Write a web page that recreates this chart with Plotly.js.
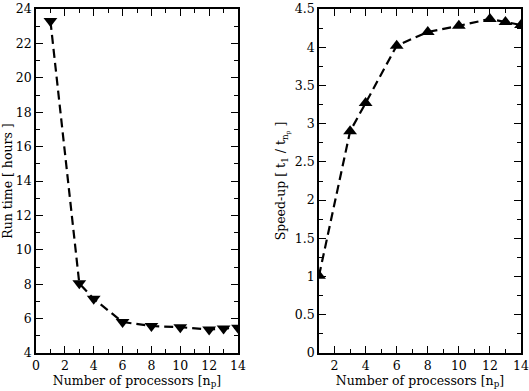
<!DOCTYPE html>
<html>
<head>
<meta charset="utf-8">
<script src="https://cdn.plot.ly/plotly-3.0.1.min.js"></script>
<style>
  html, body { margin: 0; padding: 0; background: #fff; }
  #chart { width: 529px; height: 391px; }
</style>
</head>
<body>
<div id="chart"></div>
<script>
// Dane z wykresu
const processors = [1, 3, 4, 6, 8, 10, 12, 13, 14];
const runTime = [23.3, 8.05, 7.15, 5.8, 5.57, 5.5, 5.37, 5.43, 5.47];
const speedUp = [1.01, 2.9, 3.27, 4.02, 4.2, 4.28, 4.37, 4.33, 4.29];
const xTicks = [0, 2, 4, 6, 8, 10, 12, 14];
const runTicks = [4, 6, 8, 10, 12, 14, 16, 18, 20, 22, 24];
const speedTicks = [0, 0.5, 1, 1.5, 2, 2.5, 3, 3.5, 4, 4.5];

const fontFamily = 'DejaVu Serif';
const fontSize = 12.5;

const runTrace = {
  x: processors,
  y: runTime,
  xaxis: 'x',
  yaxis: 'y',
  mode: 'lines+markers',
  line: { color: 'black', width: 2.2, dash: '9px,5px' },
  marker: { symbol: 'triangle-down', size: 12, color: 'black' },
  showlegend: false
};

const speedTrace = {
  x: processors,
  y: speedUp,
  xaxis: 'x2',
  yaxis: 'y2',
  mode: 'lines+markers',
  line: { color: 'black', width: 2.2, dash: '9px,5px' },
  marker: { symbol: 'triangle-up', size: 12, color: 'black' },
  showlegend: false
};

// Wspólne ustawienia osi
function axisBase(vals) {
  return {
    tickmode: 'array',
    tickvals: vals,
    ticktext: vals.map(String),
    showline: true,
    linecolor: 'black',
    linewidth: 1.5,
    mirror: 'ticks',
    ticks: 'inside',
    ticklen: 7,
    tickwidth: 1.3,
    tickcolor: 'black',
    showgrid: false,
    zeroline: false,
    ticklabeloverflow: 'allow',
    tickfont: { family: fontFamily, size: fontSize, color: 'black' },
    minor: { ticks: 'inside', ticklen: 4, tickwidth: 1.1, tickcolor: 'black', showgrid: false }
  };
}

const xTitle = { text: 'Number of processors [n<sub>p</sub>]', font: { family: fontFamily, size: fontSize, color: 'black' }, standoff: 2 };

const layout = {
  width: 529,
  height: 391,
  margin: { t: 9, r: 0, b: 38, l: 0 },
  font: { family: fontFamily, size: fontSize, color: 'black' },
  paper_bgcolor: 'white',
  plot_bgcolor: 'white',
  xaxis: Object.assign(axisBase(xTicks), {
    domain: [36 / 529, 238 / 529],
    range: [0, 14],
    anchor: 'y',
    title: xTitle
  }),
  yaxis: Object.assign(axisBase(runTicks), {
    domain: [0, 1],
    range: [4, 24],
    anchor: 'x',
    title: { text: 'Run time [ hours ]', font: { family: fontFamily, size: fontSize, color: 'black' }, standoff: 5 }
  }),
  xaxis2: Object.assign(axisBase(xTicks), {
    domain: [319 / 529, 521 / 529],
    range: [1, 14],
    anchor: 'y2',
    title: xTitle
  }),
  yaxis2: Object.assign(axisBase(speedTicks), {
    domain: [0, 1],
    range: [0, 4.5],
    anchor: 'x2',
    title: { text: 'Speed-up [ t<sub>1</sub> / t<sub>n<sub>p</sub></sub> ]', font: { family: fontFamily, size: fontSize, color: 'black' }, standoff: 6 }
  })
};
layout.xaxis.minor.dtick = 1;
layout.yaxis.minor.dtick = 1;
layout.xaxis2.minor.dtick = 1;
layout.yaxis2.minor.dtick = 0.25;

Plotly.newPlot('chart', [runTrace, speedTrace], layout, { displayModeBar: false });
</script>
</body>
</html>
